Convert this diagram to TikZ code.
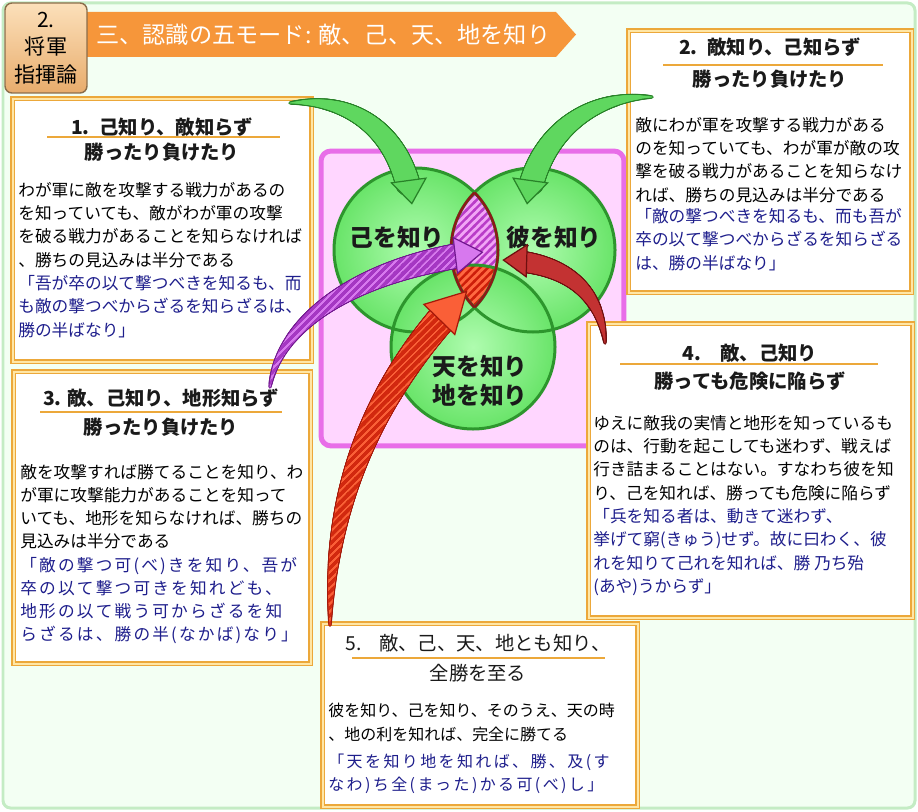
\documentclass[tikz,border=0pt]{standalone}
\usepackage{fontspec}
\setmainfont{Noto Sans CJK JP}
\usetikzlibrary{arrows.meta,decorations.markings,patterns}

\definecolor{bgmint}{RGB}{243,255,243}
\definecolor{bgedge}{RGB}{196,236,196}
\definecolor{boxgold}{RGB}{236,168,58}
\definecolor{boxpale}{RGB}{255,230,165}
\definecolor{titleink}{RGB}{26,26,26}
\definecolor{quoteblue}{RGB}{30,30,140}
\definecolor{bannerorange}{RGB}{246,150,58}
\definecolor{badgetop}{RGB}{252,224,186}
\definecolor{badgebottom}{RGB}{232,172,108}
\definecolor{badgeedge}{RGB}{140,110,75}
\definecolor{pinkfill}{RGB}{255,214,255}
\definecolor{pinkedge}{RGB}{232,110,232}
\definecolor{vennlight}{RGB}{175,252,175}
\definecolor{venngreen}{RGB}{105,228,105}
\definecolor{vennedge}{RGB}{45,150,45}
\definecolor{lenspink}{RGB}{242,165,246}
\definecolor{lensstripe}{RGB}{185,60,200}
\definecolor{lensred}{RGB}{255,105,65}
\definecolor{lensredstripe}{RGB}{205,30,10}
\definecolor{lensedge}{RGB}{140,25,25}
\definecolor{arrowgreen}{RGB}{95,215,95}
\definecolor{arrowgreendk}{RGB}{40,130,40}
\definecolor{arrowpurple}{RGB}{215,120,238}
\definecolor{arrowpurpledk}{RGB}{115,25,145}
\definecolor{arrowpurplest}{RGB}{165,55,195}
\definecolor{arrowred}{RGB}{250,95,55}
\definecolor{arrowreddk}{RGB}{165,25,10}
\definecolor{arrowredst}{RGB}{210,40,15}
\definecolor{arrowmaroon}{RGB}{195,50,50}
\definecolor{arrowmaroondk}{RGB}{110,15,15}

\pgfdeclarepatternformonly{hatch}{\pgfqpoint{-1pt}{-1pt}}{\pgfqpoint{5.5pt}{5.5pt}}{\pgfqpoint{4.5pt}{4.5pt}}{%
  \pgfsetlinewidth{1.4pt}\pgfpathmoveto{\pgfqpoint{-0.5pt}{-0.5pt}}\pgfpathlineto{\pgfqpoint{5pt}{5pt}}\pgfusepath{stroke}}

\newcommand\settaper[1]{%
  \pgfmathsetmacro\taperfrac{\pgfkeysvalueof{/pgf/decoration/mark info/distance from start}/\pgfdecoratedpathlength}%
  \pgfmathsetmacro\tapr{0.3+(#1-0.3)*\taperfrac*(2-\taperfrac)}}

\tikzset{
  infobox/.style={draw=boxgold, line width=0.9pt, double=boxpale, double distance=1pt, fill=white, inner sep=0pt, anchor=north west},
  boxtitle/.style={font=\bfseries\fontsize{11pt}{13pt}\selectfont, inner sep=0pt, text=titleink},
  plaintitle/.style={boxtitle, font=\fontsize{11pt}{13pt}\selectfont},
  titlerule/.style={boxgold, line width=0.05cm},
  bodytext/.style={font=\fontsize{9.5pt}{13.2pt}\selectfont, align=left, anchor=west, inner sep=0pt},
  quotetext/.style={bodytext, text=quoteblue},
  widequote/.style={quotetext, font=\addfontfeatures{LetterSpace=13}\fontsize{9.5pt}{13.2pt}\selectfont},
  badge/.style={rounded corners=0.14cm, top color=badgetop, bottom color=badgebottom, draw=badgeedge, line width=0.8pt,
    minimum width=1.64cm, minimum height=1.8cm, align=center, inner sep=0pt, font=\fontsize{12pt}{15.5pt}\selectfont},
  bannertext/.style={anchor=west, text=white, inner sep=0pt, font=\fontsize{13.2pt}{15pt}\selectfont},
  panel/.style={anchor=north west, minimum width=6.06cm, minimum height=5.9cm, rounded corners=0.2cm,
    fill=pinkfill, draw=pinkedge, line width=0.1cm, inner sep=0pt},
  venn/.style={circle, minimum size=3.28cm, inner sep=0pt, shading=radial, inner color=vennlight, outer color=venngreen},
  vennline/.style={vennedge, line width=0.06cm},
  vennlabel/.style={font=\bfseries\fontsize{13.5pt}{16.5pt}\selectfont, align=center, inner sep=0pt, text=titleink},
  lensline/.style={lensedge, line width=0.05cm},
  tapershaft/.style n args={4}{
    postaction={decorate, decoration={markings,
      mark=between positions 0 and #4 step 0.4pt with {\settaper{#3}\fill[#1] (0,0) circle[radius=\tapr pt+0.7pt];}}},
    postaction={decorate, decoration={markings,
      mark=between positions 0 and #4 step 0.4pt with {\settaper{#3}\fill[#2] (0,0) circle[radius=\tapr pt];}}}},
  taperstripe/.style n args={3}{
    postaction={decorate, decoration={markings,
      mark=between positions 0 and #3 step 0.4pt with {\settaper{#2}\fill[pattern=hatch, pattern color=#1] (0,0) circle[radius=\tapr pt];}}}},
  taperhead/.style n args={3}{
    postaction={decorate, decoration={markings,
      mark=at position 0.998 with {\arrow{Triangle[#3, fill=#2, color=#1, line width=0.7pt]}}}}}
}

\begin{document}
\begin{tikzpicture}[x=0.02cm,y=-0.02cm]
  \useasboundingbox (0,0) rectangle (918,811);
  \fill[bgmint, draw=bgedge, line width=0.06cm, rounded corners=0.15cm] (3,3) rectangle (915,808);

  \fill[bannerorange] (80,12) -- (556,12) -- (576,34.5) -- (556,57) -- (80,57) -- cycle;
  \node[bannertext] (banner) at (96,34.5) {三、認識の五モード: 敵、己、天、地を知り};
  \node[badge] (badge) at (46,48) {2.\\将軍\\指揮論};

  \node[panel] (panel) at (318.5,148.5) {};

  \node[venn] (self) at (416,250) {};
  \node[venn] (foe) at (533,250) {};
  \node[venn] (land) at (473,347) {};
  \begin{scope}
    \clip (self.center) circle[radius=82];
    \fill[lenspink] (foe.center) circle[radius=82];
    \fill[pattern=hatch, pattern color=lensstripe] (foe.center) circle[radius=82];
    \clip (foe.center) circle[radius=82];
    \fill[lensred] (land.center) circle[radius=82];
    \fill[pattern=hatch, pattern color=lensredstripe] (land.center) circle[radius=82];
  \end{scope}
  \draw[vennline] (self.center) circle[radius=82];
  \draw[vennline] (foe.center) circle[radius=82];
  \draw[vennline] (land.center) circle[radius=82];
  \begin{scope}
    \clip (self.center) circle[radius=82];
    \draw[lensline] (foe.center) circle[radius=82];
  \end{scope}
  \begin{scope}
    \clip (foe.center) circle[radius=82];
    \draw[lensline] (self.center) circle[radius=82];
  \end{scope}
  \node[vennlabel] (selflabel) at (397,237) {己を知り};
  \node[vennlabel] (foelabel) at (554,237) {彼を知り};
  \node[vennlabel] (landlabel) at (480,381) {天を知り\\地を知り};

  \node[infobox, minimum width=5.98cm, minimum height=5.26cm] (box1) at (12,98) {};
  \node[boxtitle] (title1) at (162,127) {1.\hspace{0.5em}己知り、敵知らず};
  \draw[titlerule] (47,137) -- (280,137);
  \node[boxtitle] (sub1) at (162,152) {勝ったり負けたり};
  \node[bodytext] (body1) at (18,225) {わが軍に敵を攻撃する戦力があるの\\を知っていても、敵がわが軍の攻撃\\を破る戦力があることを知らなければ\\、勝ちの見込みは半分である};
  \node[quotetext] (quote1) at (18,306.5) {「吾が卒の以て撃つべきを知るも、而\\も敵の撃つべからざるを知らざるは、\\勝の半ばなり」};

  \node[infobox, minimum width=5.66cm, minimum height=5.24cm] (box2) at (628,30) {};
  \node[boxtitle] (title2) at (770,47) {2.\hspace{0.5em}敵知り、己知らず};
  \draw[titlerule] (663,65) -- (883,65);
  \node[boxtitle] (sub2) at (770,79) {勝ったり負けたり};
  \node[bodytext] (body2) at (635,160) {敵にわが軍を攻撃する戦力がある\\のを知っていても、わが軍が敵の攻\\撃を破る戦力があることを知らなけ\\れば、勝ちの見込みは半分である};
  \node[quotetext] (quote2) at (635,239.5) {「敵の撃つべきを知るも、而も吾が\\卒の以て撃つべからざるを知らざる\\は、勝の半ばなり」};

  \node[infobox, minimum width=5.94cm, minimum height=5.84cm] (box3) at (13,371) {};
  \node[boxtitle] (title3) at (161,398) {3. 敵、己知り、地形知らず};
  \draw[titlerule] (40,412) -- (282,412);
  \node[boxtitle] (sub3) at (161,427) {勝ったり負けたり};
  \node[bodytext] (body3) at (20,506.5) {敵を攻撃すれば勝てることを知り、わ\\が軍に攻撃能力があることを知って\\いても、地形を知らなければ、勝ちの\\見込みは半分である};
  \node[widequote] (quote3) at (20,600.5) {「敵の撃つ可(べ)きを知り、吾が\\卒の以て撃つ可きを知れども、\\地形の以て戦う可からざるを知\\らざるは、勝の半(なかば)なり」};

  \node[infobox, minimum width=6.48cm, minimum height=5.88cm] (box4) at (588,323) {};
  \node[boxtitle] (title4) at (750,353) {4.\quad 敵、己知り};
  \draw[titlerule] (620,364) -- (878,364);
  \node[boxtitle] (sub4) at (750,381) {勝っても危険に陥らず};
  \node[bodytext] (body4) at (593,458) {ゆえに敵我の実情と地形を知っているも\\のは、行動を起こしても迷わず、戦えば\\行き詰まることはない。すなわち彼を知\\り、己を知れば、勝っても危険に陥らず};
  \node[quotetext] (quote4) at (593,552) {「兵を知る者は、動きて迷わず、\\挙げて窮(きゅう)せず。故に曰わく、彼\\れを知りて己れを知れば、勝\ 乃ち殆\\(あや)うからず」};

  \node[infobox, minimum width=6.30cm, minimum height=3.66cm] (box5) at (322,623) {};
  \node[plaintitle] (title5) at (478,643) {5.\hspace{0.9em}敵、己、天、地とも知り、};
  \draw[titlerule] (352,658) -- (605,658);
  \node[plaintitle] (sub5) at (478,673) {全勝を至る};
  \node[bodytext, font=\fontsize{9.1pt}{14pt}\selectfont] (body5) at (328,722.5) {彼を知り、己を知り、そのうえ、天の時\\、地の利を知れば、完全に勝てる};
  \node[widequote, font=\addfontfeatures{LetterSpace=15}\fontsize{9.1pt}{13pt}\selectfont] (quote5) at (328,773.5) {「天を知り地を知れば、勝、及(す\\なわ)ち全(まった)かる可(べ)し」};

  \coordinate (selftail) at (290,103);
  \coordinate (selftip) at (412,205);
  \coordinate (foetail) at (652,97);
  \coordinate (foetip) at (527,205);
  \coordinate (terraintail) at (270,387);
  \coordinate (terraintip) at (484,252);
  \coordinate (alltail) at (330,625);
  \coordinate (alltip) at (468,290);
  \coordinate (safetail) at (605,343);
  \coordinate (safetip) at (502,260);
  \path[tapershaft={arrowgreendk}{arrowgreen}{6.6}{0.88}, taperhead={arrowgreendk}{arrowgreen}{width=0.74cm,length=0.5cm}]
    (selftail) .. controls (350,97) and (402,130) .. (selftip);
  \path[tapershaft={arrowgreendk}{arrowgreen}{6.6}{0.88}, taperhead={arrowgreendk}{arrowgreen}{width=0.74cm,length=0.5cm}]
    (foetail) .. controls (592,95) and (537,132) .. (foetip);
  \path[tapershaft={arrowpurpledk}{arrowpurple}{6.6}{0.91}, taperstripe={arrowpurplest}{6.6}{0.91},
    taperhead={arrowpurpledk}{arrowpurple}{width=0.76cm,length=0.58cm}]
    (terraintail) .. controls (280,318) and (365,266) .. (terraintip);
  \path[tapershaft={arrowreddk}{arrowred}{7.8}{0.9}, taperstripe={arrowredst}{7.8}{0.9},
    taperhead={arrowreddk}{arrowred}{width=0.9cm,length=0.82cm}]
    (alltail) .. controls (330,480) and (385,375) .. (alltip);
  \path[tapershaft={arrowmaroondk}{arrowmaroon}{5.6}{0.86}, taperhead={arrowmaroondk}{arrowmaroon}{width=0.68cm,length=0.5cm}]
    (safetail) .. controls (600,290) and (565,262) .. (safetip);
\end{tikzpicture}
\end{document}
